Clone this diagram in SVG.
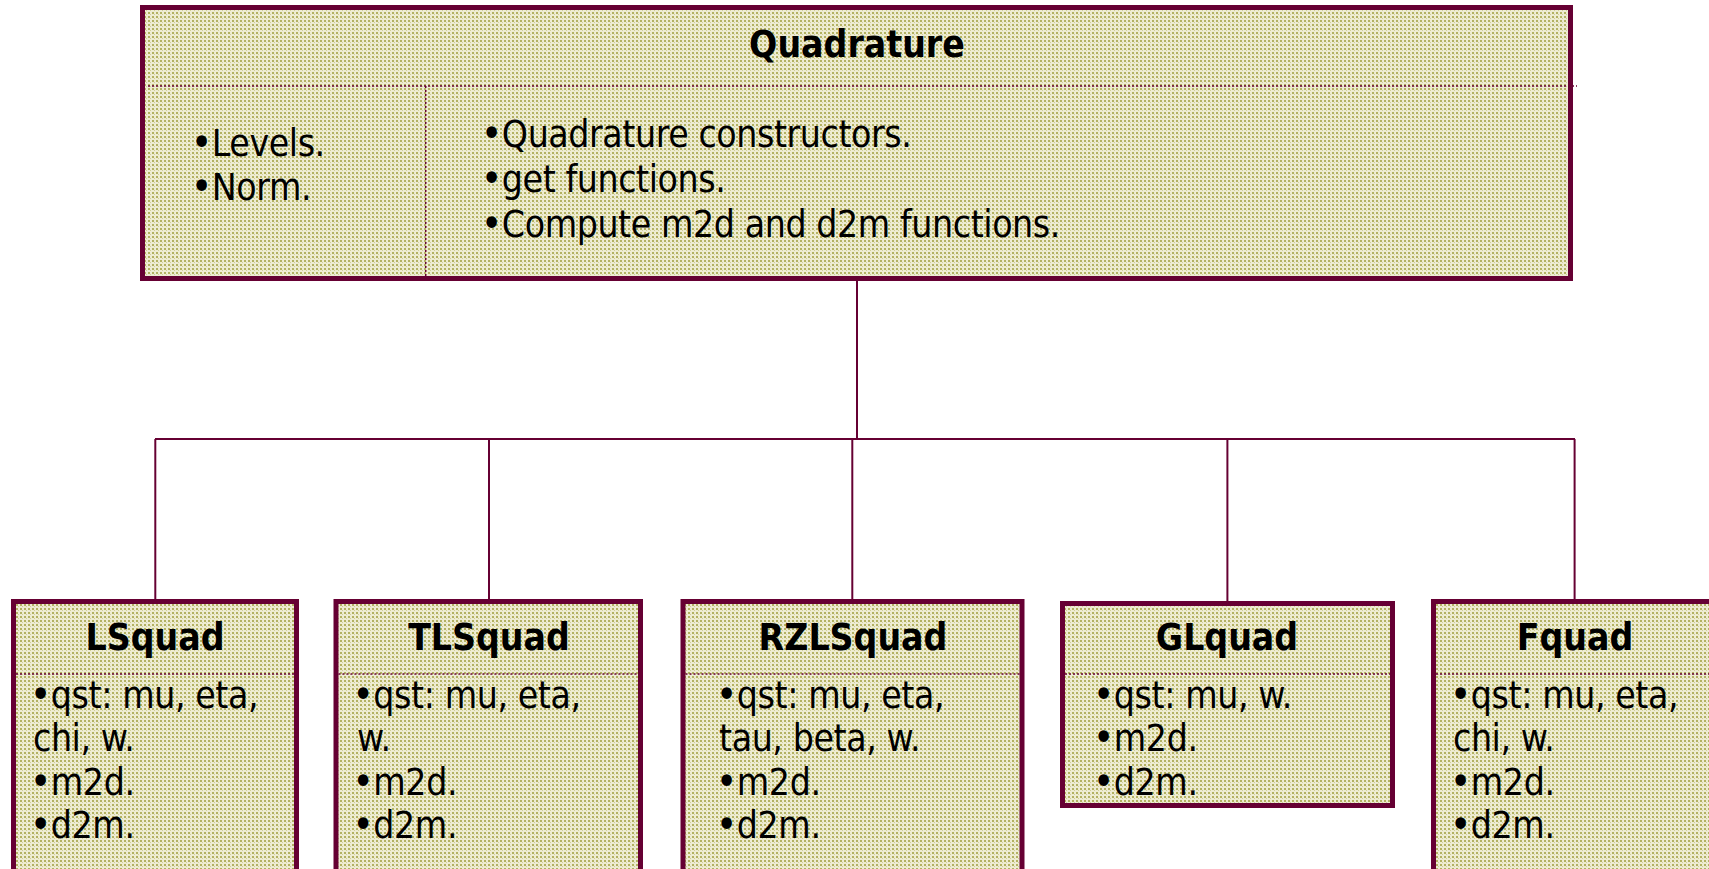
<svg xmlns="http://www.w3.org/2000/svg" width="1709" height="869" viewBox="0 0 1709 869">
  <defs>
    <!-- khaki dotted fill used by every class box -->
    <pattern id="dots" width="4" height="4" patternUnits="userSpaceOnUse">
      <rect width="4" height="4" fill="#eeecd2"/>
      <rect x="0" y="0" width="2" height="2" fill="#b3b162"/>
      <rect x="2" y="2" width="1" height="1" fill="#d0ce98"/>
    </pattern>
  </defs>
  <style>
    .box { fill: url(#dots); stroke: #660033; stroke-width: 5; }
    .div { stroke: #660033; stroke-width: 1.5; stroke-dasharray: 2 2; fill: none; }
    .link { stroke: #660033; stroke-width: 2; fill: none; }
    text { font-family: "DejaVu Sans Condensed", "DejaVu Sans", sans-serif; font-stretch: condensed; font-size: 37px; fill: #000; letter-spacing: -0.4px; }
    .title { font-weight: bold; text-anchor: middle; letter-spacing: 0; }
    .b { font-size: 40px; }
  </style>

  <rect width="1709" height="869" fill="#ffffff"/>

  <!-- connectors -->
  <g id="connectors">
    <path class="link" d="M857,281 V439"/>
    <path class="link" d="M155,439 H1575"/>
    <path class="link" d="M155.3,439 V599"/>
    <path class="link" d="M489,439 V599"/>
    <path class="link" d="M852.3,439 V599"/>
    <path class="link" d="M1227.4,439 V601"/>
    <path class="link" d="M1574.6,439 V599"/>
  </g>

  <!-- base class -->
  <g id="quadrature">
    <rect class="box" x="142.5" y="7.5" width="1428" height="271"/>
    <path class="div" d="M148,86 H1577"/>
    <path class="div" d="M425.7,86 V276"/>
    <text class="title" x="857" y="57">Quadrature</text>
    <text x="191" y="156"><tspan class="b">•</tspan><tspan>Levels.</tspan></text>
    <text x="191" y="200"><tspan class="b">•</tspan><tspan>Norm.</tspan></text>
    <text x="481" y="147"><tspan class="b">•</tspan><tspan>Quadrature constructors.</tspan></text>
    <text x="481" y="192"><tspan class="b">•</tspan><tspan>get functions.</tspan></text>
    <text x="481" y="237"><tspan class="b">•</tspan><tspan>Compute m2d and d2m functions.</tspan></text>
  </g>

  <g id="lsquad">
    <rect class="box" x="13.5" y="601.5" width="283" height="300"/>
    <path class="div" d="M16,674 H294"/>
    <text class="title" x="155" y="650">LSquad</text>
    <text x="30" y="708"><tspan class="b">•</tspan><tspan>qst: mu, eta,</tspan></text>
    <text x="33" y="751">chi, w.</text>
    <text x="30" y="795"><tspan class="b">•</tspan><tspan>m2d.</tspan></text>
    <text x="30" y="838"><tspan class="b">•</tspan><tspan>d2m.</tspan></text>
  </g>

  <g id="tlsquad">
    <rect class="box" x="336" y="601.5" width="304.5" height="300"/>
    <path class="div" d="M338.5,674 H638"/>
    <text class="title" x="489" y="650">TLSquad</text>
    <text x="352.5" y="708"><tspan class="b">•</tspan><tspan>qst: mu, eta,</tspan></text>
    <text x="357" y="751">w.</text>
    <text x="352.5" y="795"><tspan class="b">•</tspan><tspan>m2d.</tspan></text>
    <text x="352.5" y="838"><tspan class="b">•</tspan><tspan>d2m.</tspan></text>
  </g>

  <g id="rzlsquad">
    <rect class="box" x="683" y="601.5" width="339" height="300"/>
    <path class="div" d="M685.5,674 H1019.5"/>
    <text class="title" x="853" y="650">RZLSquad</text>
    <text x="716" y="708"><tspan class="b">•</tspan><tspan>qst: mu, eta,</tspan></text>
    <text x="719" y="751">tau, beta, w.</text>
    <text x="716" y="795"><tspan class="b">•</tspan><tspan>m2d.</tspan></text>
    <text x="716" y="838"><tspan class="b">•</tspan><tspan>d2m.</tspan></text>
  </g>

  <g id="glquad">
    <rect class="box" x="1062.5" y="603.5" width="330" height="202"/>
    <path class="div" d="M1065,674 H1390"/>
    <text class="title" x="1227" y="650">GLquad</text>
    <text x="1093" y="708"><tspan class="b">•</tspan><tspan>qst: mu, w.</tspan></text>
    <text x="1093" y="751"><tspan class="b">•</tspan><tspan>m2d.</tspan></text>
    <text x="1093" y="795"><tspan class="b">•</tspan><tspan>d2m.</tspan></text>
  </g>

  <g id="fquad">
    <rect class="box" x="1433.5" y="601.5" width="300" height="300"/>
    <path class="div" d="M1436,674 H1709"/>
    <text class="title" x="1575" y="650">Fquad</text>
    <text x="1450" y="708"><tspan class="b">•</tspan><tspan>qst: mu, eta,</tspan></text>
    <text x="1453" y="751">chi, w.</text>
    <text x="1450" y="795"><tspan class="b">•</tspan><tspan>m2d.</tspan></text>
    <text x="1450" y="838"><tspan class="b">•</tspan><tspan>d2m.</tspan></text>
  </g>
</svg>
